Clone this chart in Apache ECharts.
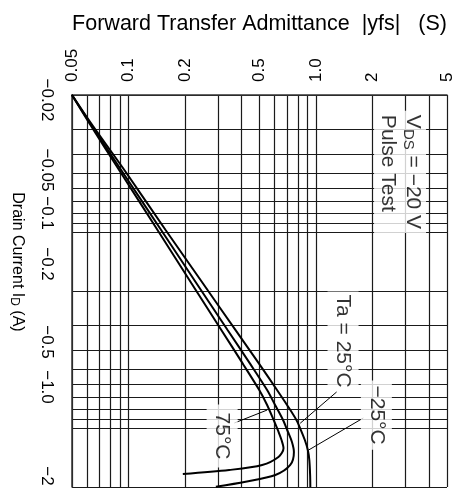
<!DOCTYPE html>
<html><head><meta charset="utf-8">
<script src="https://cdn.jsdelivr.net/npm/echarts@6/dist/echarts.min.js"></script>
<style>html,body{margin:0;padding:0;background:#fff}#c{width:460px;height:502px}</style>
</head><body><div id="c"></div>
<script>
// |yfs| axis (drawn horizontally), drain current axis (drawn vertically, magnitude)
const yfsTickValues = [0.05, 0.1, 0.2, 0.5, 1, 2, 5];
const yfsTickLabels = ['0.05', '0.1', '0.2', '0.5', '1.0', '2', '5'];
const idTickValues = [0.02, 0.05, 0.1, 0.2, 0.5, 1, 2];
const idTickLabels = ['\u22120.02', '\u22120.05', '\u22120.1', '\u22120.2', '\u22120.5', '\u22121.0', '\u22122'];
const yfsGridValues = [0.05, 0.06, 0.07, 0.08, 0.09, 0.1, 0.2, 0.3, 0.4, 0.5, 0.6, 0.7, 0.8, 0.9, 1, 2, 3, 4, 5];
const idGridValues = [0.02, 0.03, 0.04, 0.05, 0.06, 0.07, 0.08, 0.09, 0.1, 0.2, 0.3, 0.4, 0.5, 0.6, 0.7, 0.8, 0.9, 1, 2];

// curves: [ |yfs| (S), |ID| (A) ]
const curve75 = [[0.05,0.02],[0.0632,0.0288],[0.0897,0.0487],[0.1429,0.0977],[0.2163,0.182],[0.3128,0.316],[0.408,0.471],[0.4985,0.64],[0.549,0.763],[0.5945,0.91],[0.632,1.048],[0.6554,1.152],[0.6715,1.269],[0.6334,1.401],[0.5167,1.544],[0.3444,1.638],[0.195,1.717]];
const curve25 = [[0.05,0.02],[0.0639,0.0288],[0.092,0.0487],[0.1494,0.0977],[0.23,0.182],[0.3378,0.316],[0.446,0.471],[0.549,0.64],[0.6055,0.763],[0.6676,0.91],[0.7094,1.048],[0.7447,1.179],[0.763,1.325],[0.7295,1.544],[0.6076,1.737],[0.4216,1.879],[0.2925,1.993]];
const curveM25 = [[0.05,0.02],[0.0647,0.0288],[0.0957,0.0487],[0.1578,0.0977],[0.2488,0.182],[0.3719,0.316],[0.498,0.471],[0.62,0.64],[0.701,0.763],[0.7866,0.91],[0.831,1.024],[0.8726,1.152],[0.905,1.295],[0.922,1.456],[0.931,1.737],[0.9335,2.0]];

// annotations: text anchor [yfs, id]
const noteVds = [2.81, 0.0241];
const noteTa25 = [1.395, 0.36];
const noteM25 = [2.10, 0.859];
const note75 = [0.316, 1.099];
// leader arrows: [from, to]
const arrowTa25 = [[1.289, 0.655], [0.824, 0.946]];
const arrowM25 = [[1.79, 0.889], [0.913, 1.296]];
const arrow75 = [[0.367, 0.943], [0.549, 0.81]];

function nearest(vals, v) {
  let b = 0;
  for (let i = 1; i < vals.length; i++) {
    if (Math.abs(Math.log(vals[i] / v)) < Math.abs(Math.log(vals[b] / v))) b = i;
  }
  return b;
}

const font = '"Liberation Sans", Arial, Helvetica, sans-serif';
// screen shift (px, + = down) of each drain-current label, as in the reference
const idLabelShift = [5, -3, -19, -27, -27, -41, -11];
const idRich = {};
idLabelShift.forEach((d, i) => {
  idRich['l' + i] = {
    fontFamily: font, fontSize: 17, color: '#000',
    padding: d < 0 ? [0, -2 * d, 0, 0] : [0, 0, 0, 2 * d]
  };
});

const chart = echarts.init(document.getElementById('c'), null, {renderer: 'canvas'});
const gridLine = {show: true, lineStyle: {color: '#1a1a1a', width: 1.2}};
const curveStyle = {color: '#000', width: 2};
const noteLabel = (txt, align, pad) => ({
  show: true, position: 'inside', formatter: txt, rotate: -90, align: align, verticalAlign: 'middle',
  backgroundColor: '#fff', padding: pad, color: '#000', fontFamily: font, fontSize: 21,
  rich: {
    t: {fontFamily: font, fontSize: 21, color: '#000', lineHeight: 25},
    s: {fontFamily: font, fontSize: 15, color: '#000', padding: [8, 0, 0, 0]}
  }
});

chart.setOption({
  animation: false,
  backgroundColor: '#fff',
  grid: {left: 68, right: 13, top: 95, bottom: 15},
  xAxis: {
    type: 'log', logBase: 10, min: 0.05, max: 5, position: 'top',
    axisLine: {show: true, onZero: false, lineStyle: {color: '#333', width: 1.5}},
    axisTick: {show: false, customValues: yfsGridValues},
    axisLabel: {
      customValues: yfsTickValues, rotate: -90, margin: 13,
      fontFamily: font, fontSize: 17, color: '#000',
      formatter: v => yfsTickLabels[nearest(yfsTickValues, v)]
    },
    splitLine: gridLine,
    name: 'Forward Transfer Admittance  |yfs|   (S)', nameLocation: 'middle', nameGap: 60,
    nameTextStyle: {fontFamily: font, fontSize: 21.5, color: '#000'}
  },
  yAxis: {
    type: 'log', logBase: 10, min: 0.02, max: 2, inverse: true, position: 'left',
    axisLine: {show: true, onZero: false, lineStyle: {color: '#333', width: 1.5}},
    axisTick: {show: false, customValues: idGridValues},
    axisLabel: {
      customValues: idTickValues, rotate: -90, margin: 17,
      fontFamily: font, fontSize: 17, color: '#000',
      formatter: v => { const i = nearest(idTickValues, v); return '{l' + i + '|' + idTickLabels[i] + '}'; },
      rich: idRich
    },
    splitLine: gridLine,
    name: '{n|Drain Current I}{d|D}{n| (A)}', nameLocation: 'middle', nameGap: 46, nameRotate: -90,
    nameTextStyle: {
      padding: [0, 58, 0, 0],
      rich: {
        n: {fontFamily: font, fontSize: 16, color: '#000'},
        d: {fontFamily: font, fontSize: 12, color: '#000', padding: [6, 0, 0, 0]}
      }
    }
  },
  series: [
    {type: 'line', name: '75', data: curve75, smooth: 0.3, showSymbol: false, lineStyle: curveStyle, z: 5},
    {type: 'line', name: '25', data: curve25, smooth: 0.3, showSymbol: false, lineStyle: curveStyle, z: 5},
    {type: 'line', name: '-25', data: curveM25, smooth: 0.3, showSymbol: false, lineStyle: curveStyle, z: 5},
    {
      type: 'scatter', name: 'notes', symbolSize: 0, z: 6, silent: true,
      data: [
        {value: noteVds, label: noteLabel('{t|V}{s|DS}{t| = \u221220 V}\n{t|Pulse Test}', 'left', [1, 4, 1, 4])},
        {value: noteTa25, label: noteLabel('{t|Ta = 25\u00b0C}', 'center', [3, 3, 3, 3])},
        {value: noteM25, label: noteLabel('{t|\u221225\u00b0C}', 'center', [3, 5, 3, 5])},
        {value: note75, label: noteLabel('{t|75\u00b0C}', 'center', [3, 8, 3, 8])}
      ],
      markLine: {
        silent: true, symbol: ['none', 'arrow'], symbolSize: [0, 9],
        lineStyle: {color: '#000', width: 1, type: 'solid'}, label: {show: false},
        data: [arrowTa25, arrowM25, arrow75].map(a => [{coord: a[0]}, {coord: a[1]}])
      }
    }
  ]
});
</script></body></html>
